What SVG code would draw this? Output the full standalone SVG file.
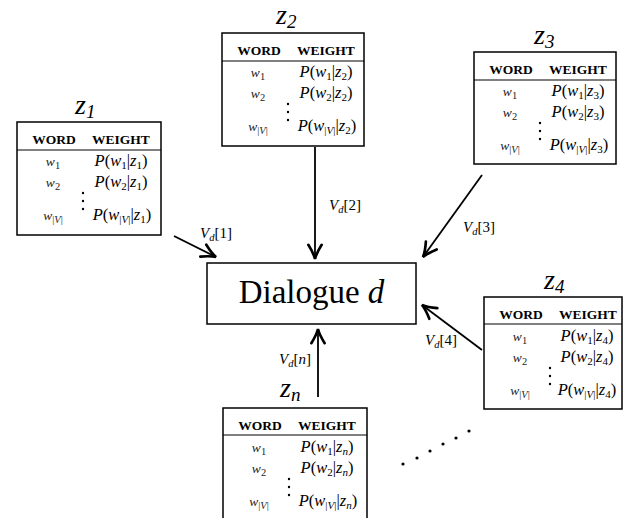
<svg xmlns="http://www.w3.org/2000/svg" xmlns:xlink="http://www.w3.org/1999/xlink" width="626" height="518" viewBox="0 0 626 518">
<style>
text{font-family:"Liberation Serif","Times New Roman",serif;fill:#000}
.box{fill:#fff;stroke:#000;stroke-width:1.5}
.hl{stroke:#000;stroke-width:1}
.hd{font-size:13.5px;font-weight:bold;text-anchor:middle}
.w{font-size:13.5px;text-anchor:middle;fill:#222}
.p{font-size:16.5px;text-anchor:middle}
.i{font-style:italic}
.s{font-size:11px}
.ws{font-size:10.5px}
.lab{font-size:28px;font-style:italic}
.ls{font-size:19px}
.v{font-size:15px}
.vs{font-size:10.5px;font-style:italic}
.arr{stroke:#000;stroke-width:1.8;fill:none;marker-end:url(#ah)}
</style>
<defs>
<marker id="ah" markerUnits="userSpaceOnUse" markerWidth="20" markerHeight="20" viewBox="-10 -6 12 12" refX="0" refY="0" orient="auto">
<path d="M-8.5,-4 C-5,-1.8 -2,-0.5 0,0 C-2,0.5 -5,1.8 -8.5,4" fill="none" stroke="#000" stroke-width="1.6" stroke-linecap="round"/>
</marker>
<g id="common">
<text class="hd" x="37" y="22">WORD</text>
<text class="hd" x="104" y="22">WEIGHT</text>
<text class="w" x="36" y="44"><tspan class="i">w</tspan><tspan class="ws" dy="2.5">1</tspan></text>
<text class="w" x="36" y="65"><tspan class="i">w</tspan><tspan class="ws" dy="2.5">2</tspan></text>
<text class="w" x="36" y="98"><tspan class="i">w</tspan><tspan class="ws" dy="2.5">|<tspan class="i">V</tspan>|</tspan></text>
<circle cx="66" cy="71" r="1.2"/>
<circle cx="66" cy="79" r="1.2"/>
<circle cx="66" cy="87" r="1.2"/>
</g>
</defs>
<rect width="626" height="518" fill="#fff"/>

<g id="connectors">
<line class="arr" x1="174" y1="236" x2="216" y2="257"/>
<line class="arr" x1="315" y1="147" x2="315" y2="259"/>
<line class="arr" x1="482" y1="175" x2="423" y2="257"/>
<line class="arr" x1="482" y1="350" x2="422" y2="305"/>
<line class="arr" x1="318" y1="397" x2="318" y2="329"/>
<text class="v" x="200" y="238"><tspan class="i">V</tspan><tspan class="vs" dy="2.5">d</tspan><tspan dy="-2.5">[1]</tspan></text>
<text class="v" x="329" y="210"><tspan class="i">V</tspan><tspan class="vs" dy="2.5">d</tspan><tspan dy="-2.5">[2]</tspan></text>
<text class="v" x="463" y="232"><tspan class="i">V</tspan><tspan class="vs" dy="2.5">d</tspan><tspan dy="-2.5">[3]</tspan></text>
<text class="v" x="425" y="345"><tspan class="i">V</tspan><tspan class="vs" dy="2.5">d</tspan><tspan dy="-2.5">[4]</tspan></text>
<text class="v" x="279" y="364"><tspan class="i">V</tspan><tspan class="vs" dy="2.5">d</tspan><tspan dy="-2.5">[</tspan><tspan class="i">n</tspan>]</text>
</g>

<g id="dialogue">
<rect class="box" x="207" y="263" width="209" height="61"/>
<text x="311.5" y="303" font-size="33" text-anchor="middle">Dialogue <tspan class="i">d</tspan></text>
</g>

<g id="z1">
<text class="lab" x="75" y="114">z<tspan class="ls" dy="4">1</tspan></text>
<g transform="translate(17,122)">
<rect class="box" width="144" height="113"/>
<line class="hl" x1="0" y1="28" x2="144" y2="28"/>
<use xlink:href="#common"/>
<text class="p" x="104" y="44"><tspan class="i">P</tspan>(<tspan class="i">w</tspan><tspan class="s" dy="3">1</tspan><tspan dy="-3">|</tspan><tspan class="i">z</tspan><tspan class="s" dy="3">1</tspan><tspan dy="-3">)</tspan></text>
<text class="p" x="104" y="65"><tspan class="i">P</tspan>(<tspan class="i">w</tspan><tspan class="s" dy="3">2</tspan><tspan dy="-3">|</tspan><tspan class="i">z</tspan><tspan class="s" dy="3">1</tspan><tspan dy="-3">)</tspan></text>
<text class="p" x="105" y="98"><tspan class="i">P</tspan>(<tspan class="i">w</tspan><tspan class="s" dy="3">|<tspan class="i">V</tspan>|</tspan><tspan dy="-3">|</tspan><tspan class="i">z</tspan><tspan class="s" dy="3">1</tspan><tspan dy="-3">)</tspan></text>
</g>
</g>

<g id="z2">
<text class="lab" x="276" y="24">z<tspan class="ls" dy="4">2</tspan></text>
<g transform="translate(222,33)">
<rect class="box" width="142" height="113"/>
<line class="hl" x1="0" y1="28" x2="142" y2="28"/>
<use xlink:href="#common"/>
<text class="p" x="104" y="44"><tspan class="i">P</tspan>(<tspan class="i">w</tspan><tspan class="s" dy="3">1</tspan><tspan dy="-3">|</tspan><tspan class="i">z</tspan><tspan class="s" dy="3">2</tspan><tspan dy="-3">)</tspan></text>
<text class="p" x="104" y="65"><tspan class="i">P</tspan>(<tspan class="i">w</tspan><tspan class="s" dy="3">2</tspan><tspan dy="-3">|</tspan><tspan class="i">z</tspan><tspan class="s" dy="3">2</tspan><tspan dy="-3">)</tspan></text>
<text class="p" x="105" y="98"><tspan class="i">P</tspan>(<tspan class="i">w</tspan><tspan class="s" dy="3">|<tspan class="i">V</tspan>|</tspan><tspan dy="-3">|</tspan><tspan class="i">z</tspan><tspan class="s" dy="3">2</tspan><tspan dy="-3">)</tspan></text>
</g>
</g>

<g id="z3">
<text class="lab" x="534" y="44">z<tspan class="ls" dy="4">3</tspan></text>
<g transform="translate(474,52)">
<rect class="box" width="142" height="112"/>
<line class="hl" x1="0" y1="28" x2="142" y2="28"/>
<use xlink:href="#common"/>
<text class="p" x="104" y="44"><tspan class="i">P</tspan>(<tspan class="i">w</tspan><tspan class="s" dy="3">1</tspan><tspan dy="-3">|</tspan><tspan class="i">z</tspan><tspan class="s" dy="3">3</tspan><tspan dy="-3">)</tspan></text>
<text class="p" x="104" y="65"><tspan class="i">P</tspan>(<tspan class="i">w</tspan><tspan class="s" dy="3">2</tspan><tspan dy="-3">|</tspan><tspan class="i">z</tspan><tspan class="s" dy="3">3</tspan><tspan dy="-3">)</tspan></text>
<text class="p" x="105" y="98"><tspan class="i">P</tspan>(<tspan class="i">w</tspan><tspan class="s" dy="3">|<tspan class="i">V</tspan>|</tspan><tspan dy="-3">|</tspan><tspan class="i">z</tspan><tspan class="s" dy="3">3</tspan><tspan dy="-3">)</tspan></text>
</g>
</g>

<g id="z4">
<text class="lab" x="544" y="289">z<tspan class="ls" dy="4">4</tspan></text>
<g transform="translate(484,297)">
<rect class="box" width="138" height="112"/>
<line class="hl" x1="0" y1="27" x2="138" y2="27"/>
<use xlink:href="#common"/>
<text class="p" x="103" y="44"><tspan class="i">P</tspan>(<tspan class="i">w</tspan><tspan class="s" dy="3">1</tspan><tspan dy="-3">|</tspan><tspan class="i">z</tspan><tspan class="s" dy="3">4</tspan><tspan dy="-3">)</tspan></text>
<text class="p" x="103" y="65"><tspan class="i">P</tspan>(<tspan class="i">w</tspan><tspan class="s" dy="3">2</tspan><tspan dy="-3">|</tspan><tspan class="i">z</tspan><tspan class="s" dy="3">4</tspan><tspan dy="-3">)</tspan></text>
<text class="p" x="103" y="98"><tspan class="i">P</tspan>(<tspan class="i">w</tspan><tspan class="s" dy="3">|<tspan class="i">V</tspan>|</tspan><tspan dy="-3">|</tspan><tspan class="i">z</tspan><tspan class="s" dy="3">4</tspan><tspan dy="-3">)</tspan></text>
</g>
</g>

<g id="zn">
<text class="lab" x="280" y="397">z<tspan class="ls" dy="4">n</tspan></text>
<g transform="translate(223,408)">
<rect class="box" width="144" height="118"/>
<line class="hl" x1="0" y1="27" x2="144" y2="27"/>
<use xlink:href="#common"/>
<text class="p" x="104" y="44"><tspan class="i">P</tspan>(<tspan class="i">w</tspan><tspan class="s" dy="3">1</tspan><tspan dy="-3">|</tspan><tspan class="i">z</tspan><tspan class="s i" dy="3">n</tspan><tspan dy="-3">)</tspan></text>
<text class="p" x="104" y="65"><tspan class="i">P</tspan>(<tspan class="i">w</tspan><tspan class="s" dy="3">2</tspan><tspan dy="-3">|</tspan><tspan class="i">z</tspan><tspan class="s i" dy="3">n</tspan><tspan dy="-3">)</tspan></text>
<text class="p" x="105" y="98"><tspan class="i">P</tspan>(<tspan class="i">w</tspan><tspan class="s" dy="3">|<tspan class="i">V</tspan>|</tspan><tspan dy="-3">|</tspan><tspan class="i">z</tspan><tspan class="s i" dy="3">n</tspan><tspan dy="-3">)</tspan></text>
</g>
</g>

<g id="ellipsis">
<circle cx="403" cy="464" r="1.6"/>
<circle cx="417" cy="458" r="1.6"/>
<circle cx="430" cy="451" r="1.6"/>
<circle cx="443" cy="444" r="1.6"/>
<circle cx="456" cy="438" r="1.6"/>
<circle cx="469" cy="431" r="1.6"/>
</g>
</svg>
